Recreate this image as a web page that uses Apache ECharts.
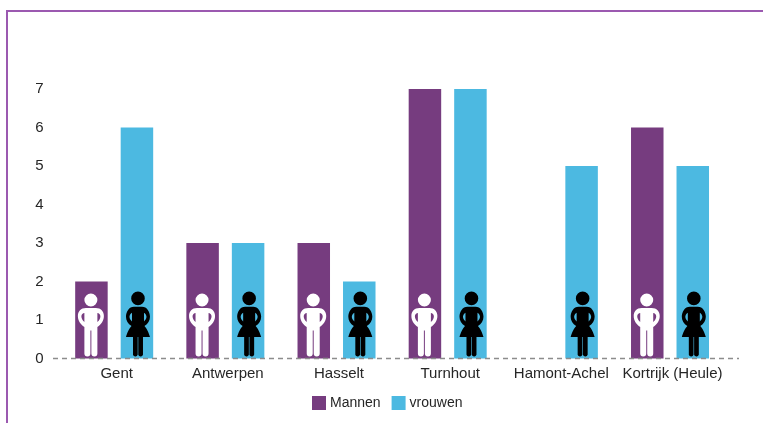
<!DOCTYPE html>
<html><head><meta charset="utf-8">
<style>html,body{margin:0;padding:0;background:#fff}#c{width:763px;height:423px}</style>
<script src="https://cdn.jsdelivr.net/npm/echarts@6/dist/echarts.min.js"></script>
</head><body><div id="c"></div>
<script>
const categories = ['Gent','Antwerpen','Hasselt','Turnhout','Hamont-Achel','Kortrijk (Heule)'];
const mannen = [2,3,3,7,0,6];
const vrouwen = [6,3,2,7,5,5];
const yTicks = [0,1,2,3,4,5,6,7];
const seriesNames = ['Mannen','vrouwen'];
const manLevel = 0.87;
const womanLevel = 0.896;

const manPath = 'path://M19.5 6.5A6.5 6.5 0 1 0 6.5 6.5A6.5 6.5 0 1 0 19.5 6.5Z'+
 'M8 14.5H18C23 14.5 26 18 26 22.5C26 27 23.5 31 19.5 33.5V60A3 3 0 0 1 13.5 60V37H12.5V60A3 3 0 0 1 6.5 60V33.5C2.5 31 0 27 0 22.5C0 18 3 14.5 8 14.5Z'+
 'M19.5 19.5V28.5C21.5 27 22.5 24.5 22.5 22.8C22.5 21 21 19.5 19.5 19.5Z'+
 'M6.5 19.5C5 19.5 3.5 21 3.5 22.8C3.5 24.5 4.5 27 6.5 28.5Z';
const womanPath = 'path://M18.8 6.8A6.8 6.8 0 1 0 5.2 6.8A6.8 6.8 0 1 0 18.8 6.8Z'+
 'M8 15H16C21 15 24 20 24 25C24 29 22 32 18.5 34C20.5 36 23 41 24 45H17V62.5A2.5 2.5 0 0 1 12.3 62.5V45H11.7V62.5A2.5 2.5 0 0 1 7 62.5V45H0C1 41 3.5 36 5.5 34C2 32 0 29 0 25C0 20 3 15 8 15Z'+
 'M18 21V29.5C19.5 28 20.5 27 20.5 25C20.5 23.5 19.5 22 18 21Z'+
 'M6 21C4.5 22 3.5 23.5 3.5 25C3.5 27 4.5 28 6 29.5Z';

const textColor = '#262626';
const chart = echarts.init(document.getElementById('c'), null, {renderer:'canvas'});
chart.setOption({
  animation:false,
  backgroundColor:'#fff',
  textStyle:{fontFamily:'"Liberation Sans", Arial, sans-serif'},
  grid:{left:58.6,right:37.4,top:89,bottom:64.5,containLabel:false},
  legend:{
    data:seriesNames, bottom:8, left:307, itemWidth:14, itemHeight:14, itemGap:11,
    icon:'rect', textStyle:{color:textColor,fontSize:14,padding:[0,0,0,-1]}
  },
  xAxis:{type:'category',data:categories,axisLine:{show:false},axisTick:{show:false},
    axisLabel:{color:textColor,fontSize:15,margin:8,interval:0,padding:[0,0,0,5]}},
  yAxis:{type:'value',min:yTicks[0],max:yTicks[yTicks.length-1],interval:1,splitLine:{show:false},
    axisLine:{show:false},axisTick:{show:false},
    axisLabel:{color:textColor,fontSize:15,margin:15}},
  series:[
    {name:seriesNames[0],type:'bar',data:mannen,barWidth:32.5,barGap:'40%',itemStyle:{color:'#763c7f'}},
    {name:seriesNames[1],type:'bar',data:vrouwen,barWidth:32.5,itemStyle:{color:'#4cb9e1'}},
    {name:'manIcon',type:'scatter',silent:true,z:5,symbol:manPath,symbolSize:[26,63],symbolKeepAspect:false,symbolOffset:[-23.3,0],
      itemStyle:{color:'#ffffff',opacity:1},
      data:categories.map((c,i)=>mannen[i]>0?[c,manLevel]:null).filter(Boolean)},
    {name:'womanIcon',type:'scatter',silent:true,z:5,symbol:womanPath,symbolSize:[24,65],symbolKeepAspect:false,symbolOffset:[23.8,0],
      itemStyle:{color:'#000000',opacity:1},
      data:categories.map(c=>[c,womanLevel])}
  ]
});
const y0 = chart.convertToPixel({yAxisIndex:0},0);
chart.setOption({graphic:[
  {type:'polyline',silent:true,z:10,shape:{points:[[7,423],[7,11],[763,11]]},style:{stroke:'#9b59b0',lineWidth:2,fill:null}},
  {type:'line',silent:true,z:10,shape:{x1:53,y1:y0,x2:739,y2:y0},style:{stroke:'#8c8c8c',lineWidth:1.5,lineDash:[5,4]}}
]});
</script></body></html>
